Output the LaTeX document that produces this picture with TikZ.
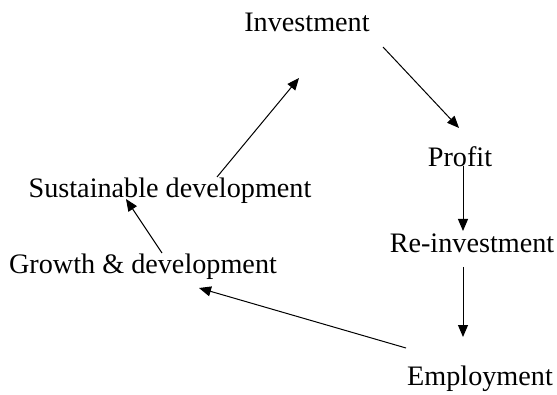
\documentclass[tikz,border=0pt]{standalone}
\usepackage{fontspec}
\setmainfont{Liberation Serif}
\usetikzlibrary{arrows.meta,positioning}
\tikzset{
    %Define standard arrow tip
    >={Triangle[length=12pt,width=10pt]},
    %Define style for text nodes
    stage/.style={
           inner sep=0pt,
           anchor=base,
           font=\fontsize{28.2}{31}\selectfont,
           text centered},
    % Define arrow style
    pil/.style={
           ->,
           line width=1pt}
}
\begin{document}
\begin{tikzpicture}[x=1pt,y=1pt,main node/.style={stage}]
\useasboundingbox (0,0) rectangle (557,394);
\node[main node] (1) at (307,362) {Investment};
\node[main node] (2) at (460,227) {Profit};
\node[main node] (3) at (472,141) {Re-investment};
\node[main node] (4) at (480,9) {Employment};
\node[main node] (5) at (143,121) {Growth \& development};
\node[main node] (6) at (170,196) {Sustainable development};

 \path[pil]
 	([shift={(76pt,-15pt)}]1.base) edge ([shift={(-1pt,39pt)}]2.base)
    ([shift={(3pt,1pt)}]2.base) edge ([shift={(-9pt,22pt)}]3.base)
    ([shift={(-9pt,-14pt)}]3.base) edge ([shift={(-17pt,48pt)}]4.base)
    ([shift={(-74pt,37pt)}]4.base) edge ([shift={(56pt,-15pt)}]5.base)
    ([shift={(19pt,20pt)}]5.base) edge ([shift={(-44pt,-1pt)}]6.base)
    ([shift={(47pt,21pt)}]6.base) edge ([shift={(-8pt,-46pt)}]1.base);

\end{tikzpicture}
\end{document}
